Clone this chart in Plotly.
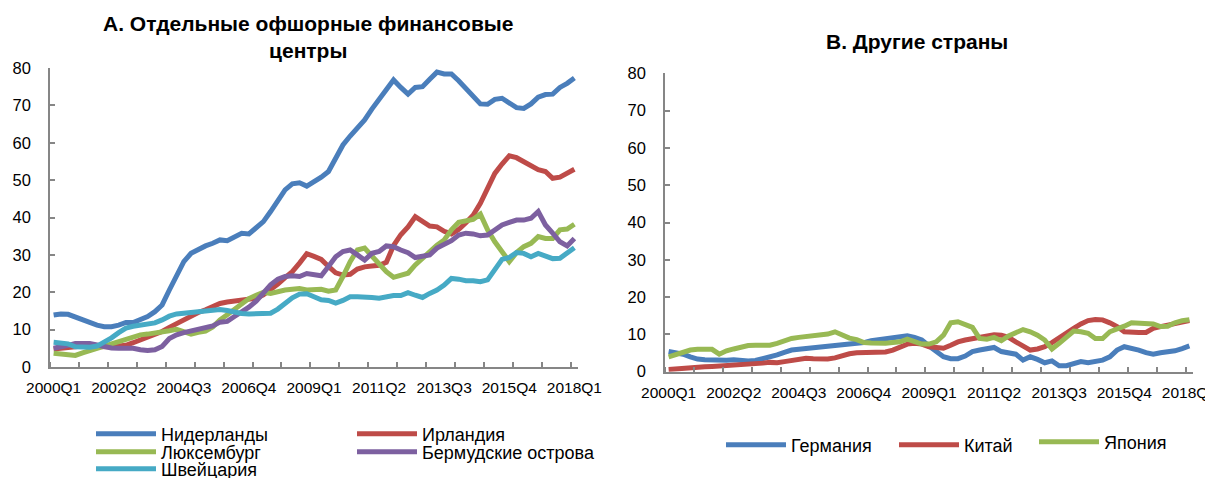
import plotly.graph_objects as go

# ---------------- data ----------------
quarters = [f"{y}Q{q}" for y in range(2000, 2019) for q in range(1, 5)][:73]  # 2000Q1..2018Q1
tick_labels = ["2000Q1", "2002Q2", "2004Q3", "2006Q4", "2009Q1", "2011Q2", "2013Q3", "2015Q4", "2018Q1"]

netherlands = [13.9, 14.2, 14.1, 13.3, 12.8, 11.9, 11.2, 10.8, 10.8, 11.2, 11.9, 11.9, 12.6, 13.5, 14.8, 16.6,
               20.6, 24.6, 28.2, 30.4, 31.5, 32.4, 33.1, 34.0, 33.8, 34.9, 35.8, 35.6, 37.1, 38.9, 41.6, 44.5,
               47.4, 49.0, 49.3, 48.4, 49.5, 50.8, 52.3, 55.8, 59.4, 61.8, 64.0, 66.1, 69.0, 71.6, 74.3, 76.8,
               74.8, 73.0, 74.8, 75.0, 77.0, 78.9, 78.4, 78.4, 76.6, 74.4, 72.2, 70.4, 70.3, 71.6, 71.9, 70.7,
               69.4, 69.2, 70.4, 72.2, 72.9, 73.0, 74.8, 75.9, 77.3]
ireland = [4.8, 5.0, 5.3, 5.5, 5.6, 5.5, 5.4, 5.3, 5.4, 5.6, 5.8, 6.5, 7.3, 8.0, 8.6, 9.5,
           10.6, 11.6, 12.8, 13.9, 14.6, 15.3, 16.2, 17.0, 17.4, 17.6, 17.9, 18.1, 18.4, 19.3, 20.6, 22.2,
           23.9, 25.5, 27.8, 30.3, 29.6, 28.8, 26.9, 25.2, 24.6, 24.8, 26.2, 26.8, 27.0, 27.2, 28.0, 32.5,
           35.4, 37.5, 40.2, 39.1, 37.7, 37.5, 36.3, 35.6, 36.8, 38.6, 40.6, 43.8, 47.5, 51.8, 54.3, 56.5,
           56.0, 55.0, 54.1, 52.8, 52.3, 50.5, 50.8, 51.8, 52.9]
luxembourg = [3.7, 3.5, 3.5, 3.1, 3.8, 4.4, 5.0, 5.6, 6.0, 6.6, 7.3, 8.0, 8.6, 8.8, 9.0, 9.3,
              9.7, 10.1, 9.6, 8.8, 9.3, 9.6, 10.7, 12.6, 14.0, 15.5, 17.0, 18.3, 19.2, 20.0, 19.7, 20.2,
              20.6, 20.8, 21.0, 20.6, 20.6, 20.8, 20.3, 20.6, 24.2, 28.2, 31.3, 31.8, 29.7, 27.7, 25.5, 24.0,
              24.4, 25.1, 27.3, 29.1, 30.9, 32.6, 34.0, 36.7, 38.7, 39.2, 39.5, 40.9, 36.7, 33.5, 30.9, 28.2,
              30.6, 32.2, 33.1, 34.9, 34.4, 34.4, 36.7, 36.9, 38.2]
bermuda = [5.0, 5.3, 5.8, 6.3, 6.4, 6.3, 5.9, 5.4, 5.1, 5.0, 5.0, 5.0, 4.6, 4.4, 4.6, 5.5,
           7.6, 8.6, 9.2, 9.6, 10.0, 10.4, 11.0, 12.0, 12.2, 13.5, 14.6, 16.0, 17.6, 19.6, 22.0, 23.5,
           24.2, 24.4, 24.2, 25.0, 24.8, 24.4, 26.9, 29.5, 30.9, 31.3, 30.0, 28.6, 30.4, 30.9, 32.4, 32.2,
           31.3, 30.6, 29.3, 29.5, 30.0, 31.8, 32.9, 33.8, 35.3, 35.8, 35.6, 35.1, 35.3, 36.5, 38.0, 38.7,
           39.3, 39.3, 39.8, 41.6, 38.0, 35.8, 33.5, 32.4, 34.4]
switzerland = [6.6, 6.5, 6.2, 5.4, 5.2, 5.3, 5.6, 6.6, 7.8, 9.2, 10.4, 10.9, 11.1, 11.3, 11.8, 12.6,
               13.6, 14.2, 14.4, 14.6, 14.8, 15.1, 15.4, 15.4, 15.1, 14.6, 14.3, 14.2, 14.2, 14.3, 14.4, 15.5,
               17.0, 18.5, 19.5, 19.6, 18.8, 18.0, 17.8, 17.1, 17.8, 18.8, 18.8, 18.8, 18.6, 18.4, 18.8, 19.1,
               19.1, 19.9, 19.2, 18.6, 19.7, 20.6, 21.9, 23.7, 23.5, 23.1, 23.1, 22.8, 23.3, 26.0, 28.8, 29.3,
               30.6, 30.4, 29.5, 30.4, 29.7, 29.0, 29.1, 30.4, 31.9]

germany = [5.4, 5.1, 4.7, 4.0, 3.4, 3.2, 3.1, 3.1, 3.1, 3.2, 3.0, 2.9, 3.0, 3.4, 3.8, 4.5,
           5.2, 5.8, 6.0, 6.2, 6.4, 6.5, 6.8, 6.9, 7.0, 7.2, 7.3, 7.8, 8.3, 8.5, 8.8, 9.1,
           9.4, 9.6, 9.2, 8.5, 6.9, 5.4, 4.0, 3.5, 3.5, 4.2, 5.4, 5.8, 6.2, 6.5, 5.4, 4.9,
           4.7, 3.1, 4.0, 3.3, 2.4, 2.9, 1.6, 1.6, 2.1, 2.7, 2.4, 2.6, 3.1, 4.0, 5.8, 6.7,
           6.3, 5.8, 5.1, 4.7, 5.1, 5.2, 5.6, 6.2, 6.9]
china = [0.6, 0.8, 0.9, 1.0, 1.2, 1.3, 1.4, 1.5, 1.6, 1.6, 1.7, 1.9, 2.1, 2.3, 2.5, 2.4,
         2.7, 3.1, 3.4, 3.6, 3.5, 3.4, 3.4, 3.7, 4.3, 4.8, 5.1, 5.2, 5.2, 5.1, 5.3, 5.8,
         6.5, 7.4, 7.6, 7.4, 6.7, 6.4, 6.3, 7.1, 8.0, 8.5, 8.8, 9.1, 9.4, 9.9, 9.8, 9.2,
         8.0, 6.7, 5.8, 6.1, 6.7, 7.8, 9.2, 10.3, 11.6, 12.8, 13.7, 14.0, 13.9, 13.1, 12.1, 10.7,
         10.5, 10.5, 10.5, 11.6, 12.1, 12.5, 13.0, 13.3, 13.7]
japan = [4.0, 4.7, 5.2, 5.8, 6.0, 6.0, 6.0, 4.7, 5.6, 6.1, 6.6, 7.0, 7.1, 7.1, 7.1, 7.6,
         8.4, 8.9, 9.2, 9.4, 9.5, 9.7, 10.1, 10.7, 9.7, 9.0, 8.6, 7.8, 7.7, 7.6, 7.6, 7.8,
         8.0, 8.7, 8.0, 7.4, 7.4, 8.0, 9.8, 13.1, 13.4, 12.5, 11.9, 8.9, 8.7, 9.2, 8.3, 9.6,
         10.5, 11.3, 10.7, 9.8, 8.5, 6.1, 7.6, 9.2, 10.9, 10.7, 10.3, 8.9, 8.9, 10.7, 11.3, 12.2,
         13.1, 13.1, 13.0, 12.8, 12.1, 12.2, 13.1, 13.7, 13.9]

left_series = [("Нидерланды", netherlands, "#4A7EBB"), ("Ирландия", ireland, "#BE4B48"),
               ("Люксембург", luxembourg, "#98B954"), ("Бермудские острова", bermuda, "#7D60A0"),
               ("Швейцария", switzerland, "#46AAC5")]
right_series = [("Германия", germany, "#4A7EBB"), ("Китай", china, "#BE4B48"), ("Япония", japan, "#98B954")]

# ---------------- figure ----------------
W, H = 1205, 478
FONT = "Liberation Sans, Arial, sans-serif"
AX = "#868686"

xidx = list(range(len(quarters)))
tickvals = [quarters.index(t) for t in tick_labels]

fig = go.Figure()

# legend placement (pixel positions of each legend entry, container coords)
left_leg_pos = {"Нидерланды": (91, 434), "Ирландия": (352, 434), "Люксембург": (91, 452),
                "Бермудские острова": (352, 452), "Швейцария": (91, 469)}
right_leg_pos = {"Германия": (721, 445), "Китай": (894, 445), "Япония": (1034, 442)}

legends = {}
n = 1
for name, vals, col in left_series:
    n += 1
    key = f"legend{n}"
    fig.add_trace(go.Scatter(x=xidx, y=vals, name=name, mode="lines",
                             line=dict(color=col, width=5), xaxis="x", yaxis="y", legend=key))
    legends[key] = left_leg_pos[name]
for name, vals, col in right_series:
    n += 1
    key = f"legend{n}"
    fig.add_trace(go.Scatter(x=xidx, y=vals, name=name, mode="lines",
                             line=dict(color=col, width=5), xaxis="x2", yaxis="y2", legend=key))
    legends[key] = right_leg_pos[name]

def xaxis_cfg(dom, anchor):
    return dict(domain=dom, anchor=anchor, range=[-0.5, len(quarters) - 0.5], automargin=False,
                tickmode="array", tickvals=tickvals, ticktext=tick_labels, ticks="",
                ticklabeloverflow="allow",
                showline=True, linecolor=AX, linewidth=1.5, showgrid=False, zeroline=False,
                tickfont=dict(family=FONT, size=15.5, color="#000"), ticklabelstandoff=6,
                minor=dict(tick0=-0.5, dtick=4, ticks="inside", ticklen=5, tickcolor=AX, tickwidth=1.5,
                           showgrid=False))

def yaxis_cfg(dom, anchor):
    return dict(domain=dom, anchor=anchor, range=[0, 80], dtick=10, tick0=0, automargin=False,
                ticks="inside", ticklen=5, tickcolor=AX, tickwidth=1.5,
                showline=True, linecolor=AX, linewidth=1.5, showgrid=False, zeroline=False,
                tickfont=dict(family=FONT, size=16.5, color="#000"), ticklabelstandoff=14)

layout = dict(
    width=W, height=H, margin=dict(l=0, r=0, t=0, b=0, autoexpand=False),
    paper_bgcolor="white", plot_bgcolor="white", showlegend=True,
    font=dict(family=FONT, color="#000"),
    xaxis=xaxis_cfg([50 / W, 578 / W], "y"),
    yaxis=yaxis_cfg([1 - 367 / H, 1 - 68 / H], "x"),
    xaxis2=xaxis_cfg([665 / W, 1193 / W], "y2"),
    yaxis2=yaxis_cfg([1 - 371.7 / H, 1 - 73.3 / H], "x2"),
    annotations=[
        dict(text="<b>А. Отдельные офшорные финансовые<br>центры</b>", xref="paper", yref="paper",
             x=308 / W, y=1 - 37 / H, xanchor="center", yanchor="middle", showarrow=False,
             font=dict(family=FONT, size=21, color="#000")),
        dict(text="<b>В. Другие страны</b>", xref="paper", yref="paper",
             x=917 / W, y=1 - 42 / H, xanchor="center", yanchor="middle", showarrow=False,
             font=dict(family=FONT, size=21, color="#000")),
    ],
)
for key, (px, py) in legends.items():
    layout[key] = dict(x=px / W, y=1 - py / H, xref="container", yref="container",
                       xanchor="left", yanchor="middle",
                       orientation="v", bgcolor="rgba(0,0,0,0)", itemwidth=60,
                       font=dict(family=FONT, size=18, color="#000"), tracegroupgap=0)

fig.update_layout(**layout)
fig.write_html("out.html", config={"displayModeBar": False},
               post_script="document.body.style.margin='0';document.body.style.overflow='hidden';")
